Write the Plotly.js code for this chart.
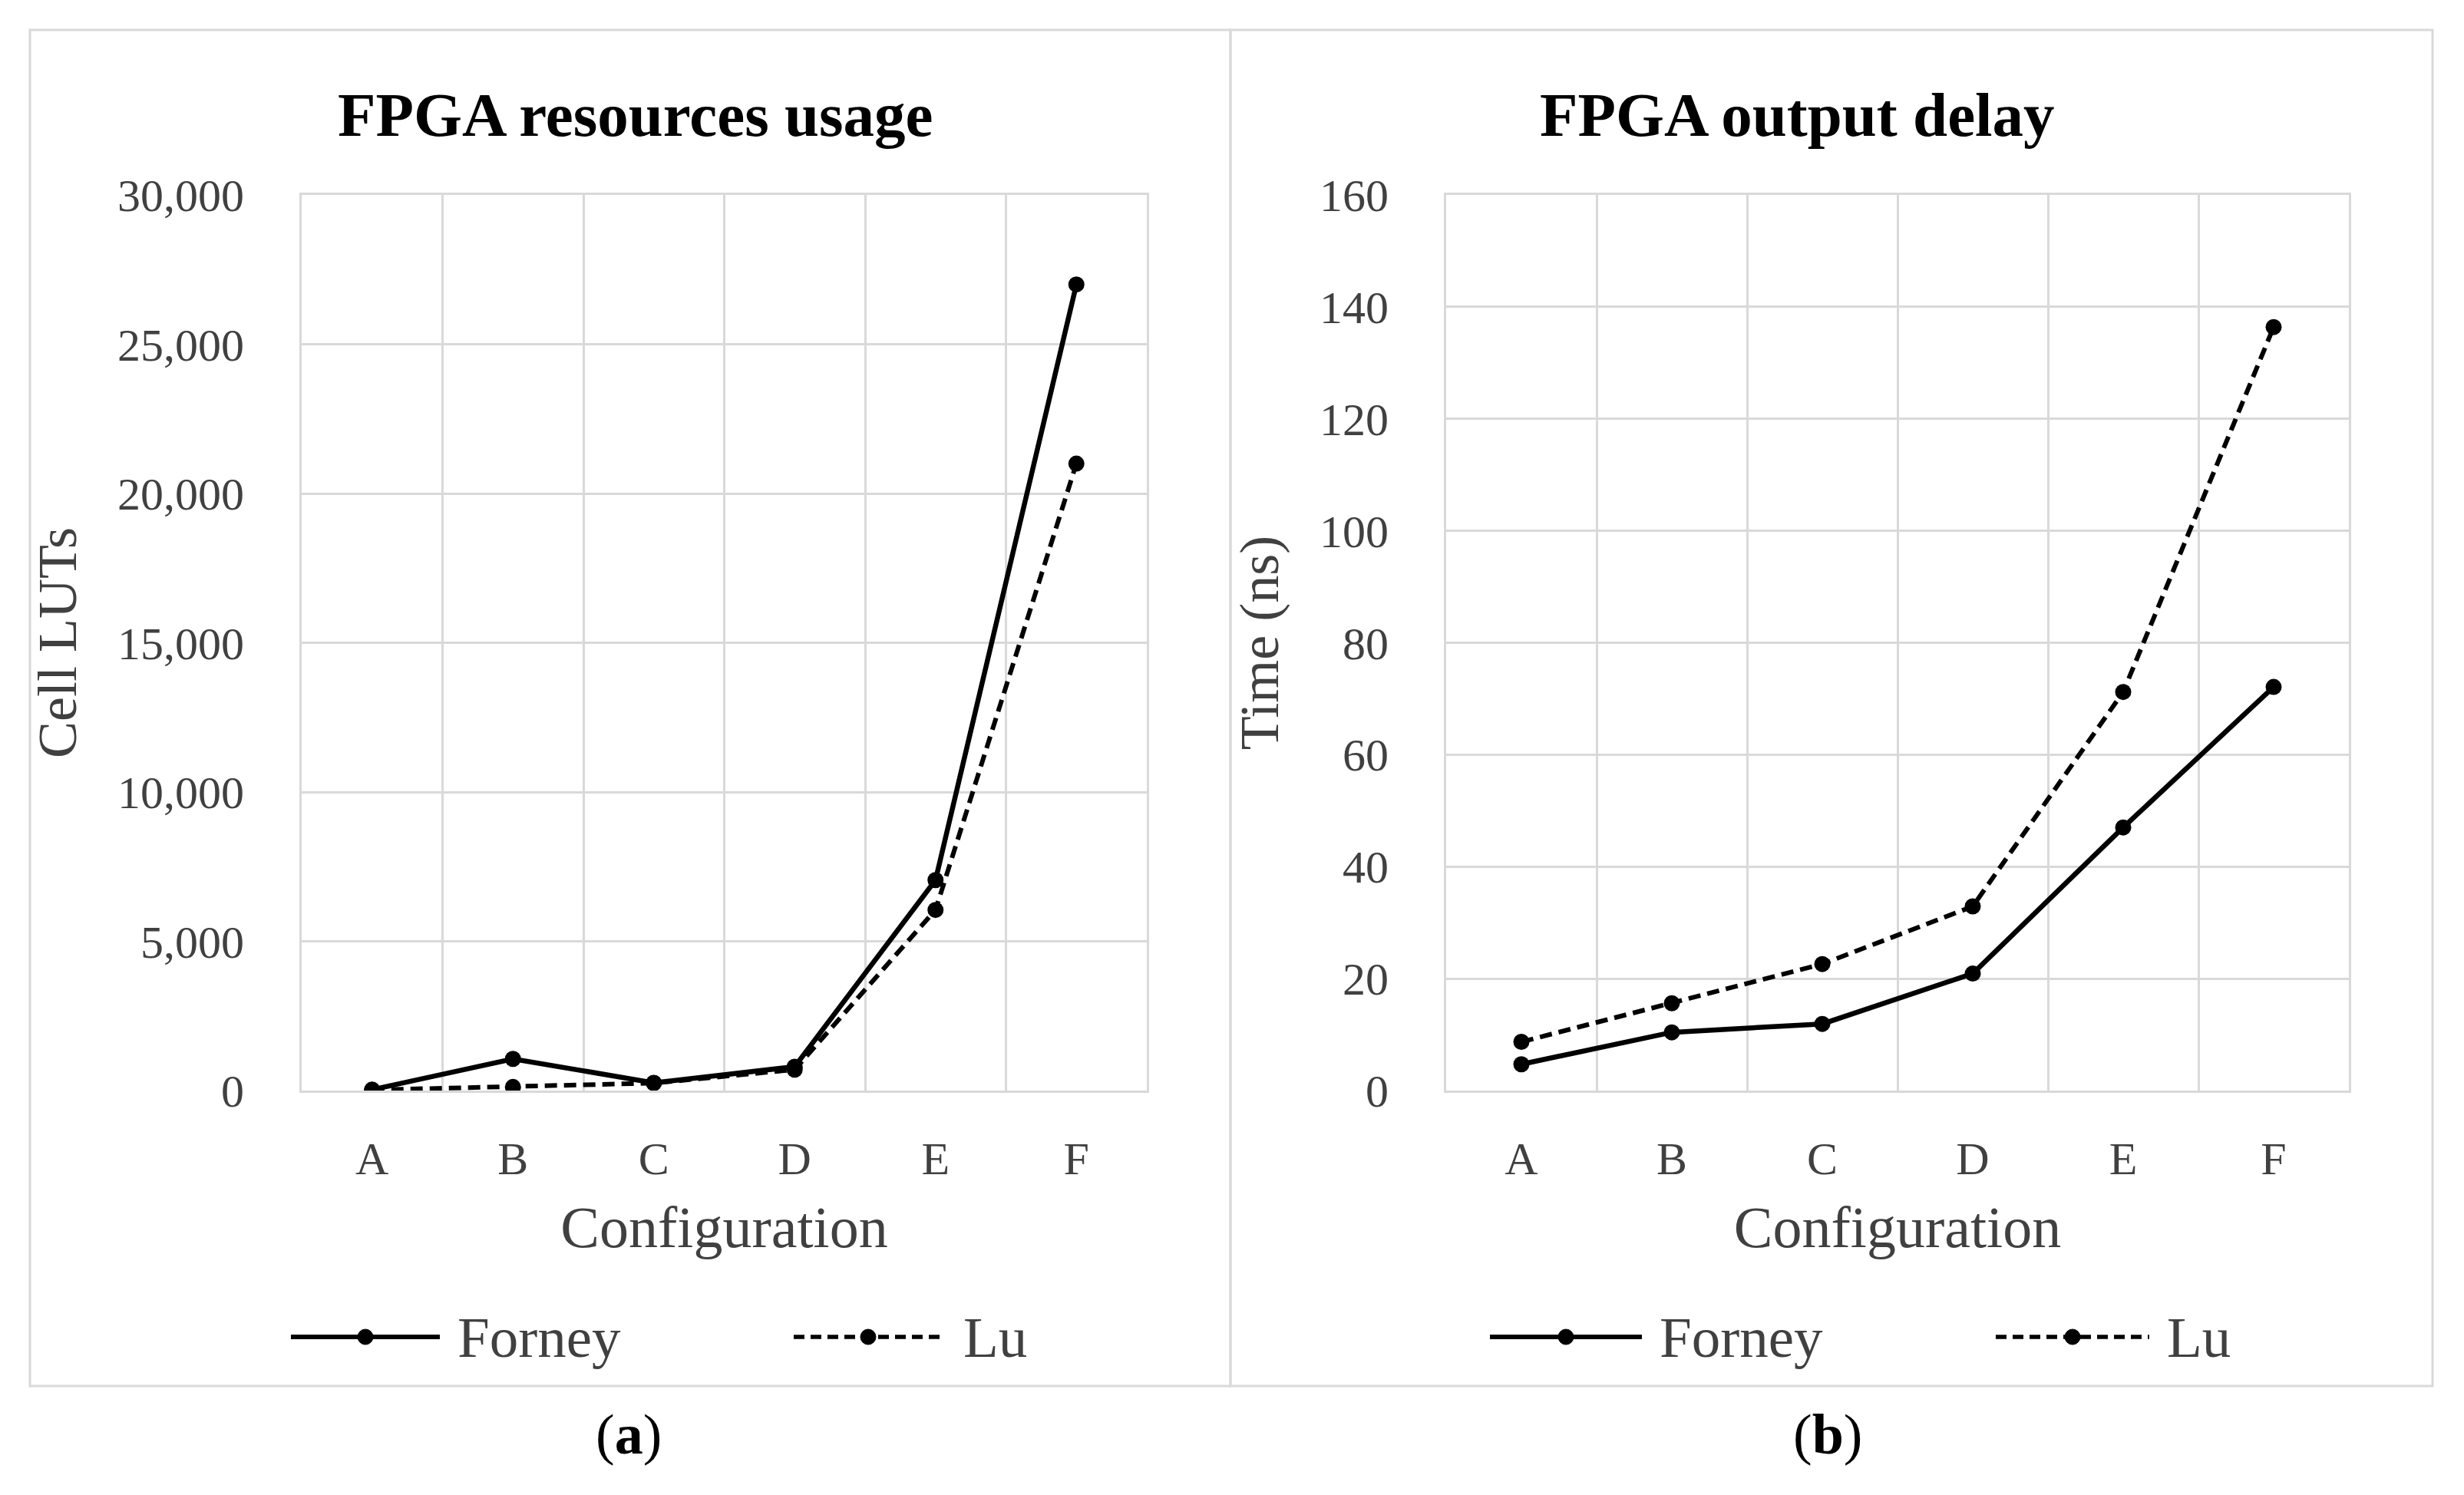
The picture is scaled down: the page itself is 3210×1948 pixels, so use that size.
<!DOCTYPE html>
<html><head><meta charset="utf-8">
<script src="https://cdn.plot.ly/plotly-3.0.1.min.js"></script>
<style>html,body{margin:0;padding:0;background:#fff;} #chart{width:3210px;height:1948px;}</style>
</head><body><div id="chart"></div>
<script>
// ---- data ----
const configurations = ['A', 'B', 'C', 'D', 'E', 'F'];
const lutsForney = [30, 1060, 260, 800, 7050, 27000];
const lutsLu = [20, 120, 250, 700, 6050, 21000];
const delayForney = [4.7, 10.4, 11.9, 20.9, 47.0, 72.1];
const delayLu = [8.7, 15.6, 22.6, 32.9, 71.2, 136.4];
const lutTickVals = [0, 5000, 10000, 15000, 20000, 25000, 30000];
const lutTickText = ['0', '5,000', '10,000', '15,000', '20,000', '25,000', '30,000'];
const delayTickVals = [0, 20, 40, 60, 80, 100, 120, 140, 160];
const delayTickText = ['0', '20', '40', '60', '80', '100', '120', '140', '160'];
const seriesNames = ['Forney', 'Lu'];
const panelTitles = ['FPGA resources usage', 'FPGA output delay'];
const yTitles = ['Cell LUTs', 'Time (ns)'];
const xTitle = 'Configuration';
const captions = ['(<b>a</b>)', '(<b>b</b>)'];

// ---- helpers ----
const W = 3210, H = 1948;
const px = x => x / W;
const py = y => 1 - y / H;
const FONT = "'Palatino Linotype', 'Book Antiqua', Palatino, 'Liberation Serif', serif";
const GRID = '#d9d9d9';
const TICK = '#404040';

const solid = {color: '#000', width: 6.5};
const dashed = {color: '#000', width: 6, dash: '16px,9px'};
const mk = {color: '#000', size: 21};

const traces = [
  {x: configurations, y: lutsForney, name: seriesNames[0], mode: 'lines+markers', line: solid, marker: mk, xaxis: 'x', yaxis: 'y'},
  {x: configurations, y: lutsLu, name: seriesNames[1], mode: 'lines+markers', line: dashed, marker: mk, xaxis: 'x', yaxis: 'y'},
  {x: configurations, y: delayForney, name: seriesNames[0], mode: 'lines+markers', line: solid, marker: mk, xaxis: 'x2', yaxis: 'y2'},
  {x: configurations, y: delayLu, name: seriesNames[1], mode: 'lines+markers', line: dashed, marker: mk, xaxis: 'x2', yaxis: 'y2'}
];

function xAxis(domain, anchor) {
  return {
    domain: domain, anchor: anchor, type: 'category', range: [-0.5, 5.5],
    tickson: 'boundaries', showgrid: true, gridcolor: GRID, gridwidth: 3,
    showline: true, linecolor: GRID, linewidth: 3, mirror: true,
    ticks: '', ticklabelstandoff: 34,
    tickfont: {family: FONT, size: 60, color: TICK},
    title: {text: xTitle, font: {family: FONT, size: 76, color: TICK}, standoff: 30},
    fixedrange: true
  };
}
function yAxis(domain, anchor, range, vals, text, title) {
  return {
    domain: domain, anchor: anchor, range: range,
    tickmode: 'array', tickvals: vals, ticktext: text,
    showgrid: true, gridcolor: GRID, gridwidth: 3, zeroline: false,
    showline: true, linecolor: GRID, linewidth: 3, mirror: true,
    ticks: '', ticklabelstandoff: 60,
    tickfont: {family: FONT, size: 60, color: TICK},
    title: {text: title, font: {family: FONT, size: 72, color: TICK}, standoff: 30},
    fixedrange: true
  };
}

const yDom = [py(1421), py(254)];

// legend pieces (decoration, not data)
const legendY = py(1742);
const legendItems = [
  {x0: 379, x1: 573, tx: 594, line: {color: '#000', width: 6}, label: seriesNames[0]},
  {x0: 1034, x1: 1228, tx: 1253, line: {color: '#000', width: 5.5, dash: '14px,8px'}, label: seriesNames[1]},
  {x0: 1941, x1: 2139, tx: 2160, line: {color: '#000', width: 6}, label: seriesNames[0]},
  {x0: 2600, x1: 2800, tx: 2821, line: {color: '#000', width: 5.5, dash: '14px,8px'}, label: seriesNames[1]}
];

const shapes = [
  {type: 'rect', xref: 'paper', yref: 'paper', x0: px(39), x1: px(1603), y0: py(1806), y1: py(39), line: {color: GRID, width: 3}, layer: 'below'},
  {type: 'rect', xref: 'paper', yref: 'paper', x0: px(1603), x1: px(3169), y0: py(1806), y1: py(39), line: {color: GRID, width: 3}, layer: 'below'}
];
const annotations = [
  {text: '<b>' + panelTitles[0] + '</b>', x: px(827), y: py(150), xref: 'paper', yref: 'paper', showarrow: false, xanchor: 'center', yanchor: 'middle', font: {family: FONT, size: 81, color: '#000'}},
  {text: '<b>' + panelTitles[1] + '</b>', x: px(2341), y: py(150), xref: 'paper', yref: 'paper', showarrow: false, xanchor: 'center', yanchor: 'middle', font: {family: FONT, size: 81, color: '#000'}},
  {text: captions[0], x: px(819), y: py(1869), xref: 'paper', yref: 'paper', showarrow: false, xanchor: 'center', yanchor: 'middle', font: {family: FONT, size: 74, color: '#000'}},
  {text: captions[1], x: px(2381), y: py(1869), xref: 'paper', yref: 'paper', showarrow: false, xanchor: 'center', yanchor: 'middle', font: {family: FONT, size: 74, color: '#000'}}
];
legendItems.forEach(it => {
  shapes.push({type: 'line', xref: 'paper', yref: 'paper', x0: px(it.x0), x1: px(it.x1), y0: legendY, y1: legendY, line: it.line});
  shapes.push({type: 'circle', xref: 'paper', yref: 'paper', xsizemode: 'pixel', ysizemode: 'pixel',
    xanchor: px((it.x0 + it.x1) / 2), yanchor: legendY, x0: -10, x1: 10, y0: -10, y1: 10,
    fillcolor: '#000', line: {color: '#000', width: 1}});
  annotations.push({text: it.label, x: px(it.tx), y: legendY, xref: 'paper', yref: 'paper', showarrow: false,
    xanchor: 'left', yanchor: 'middle', font: {family: FONT, size: 75, color: TICK}});
});

const layout = {
  width: W, height: H,
  margin: {l: 0, r: 0, t: 0, b: 0},
  paper_bgcolor: '#fff', plot_bgcolor: '#fff',
  showlegend: false,
  font: {family: FONT, color: TICK},
  xaxis: xAxis([px(393), px(1494)], 'y'),
  yaxis: yAxis(yDom, 'x', [0, 30000], lutTickVals, lutTickText, yTitles[0]),
  xaxis2: xAxis([px(1884), px(3060)], 'y2'),
  yaxis2: yAxis(yDom, 'x2', [0, 160], delayTickVals, delayTickText, yTitles[1]),
  shapes: shapes,
  annotations: annotations
};

Plotly.newPlot('chart', traces, layout, {displayModeBar: false, staticPlot: true});
</script>
</body></html>
